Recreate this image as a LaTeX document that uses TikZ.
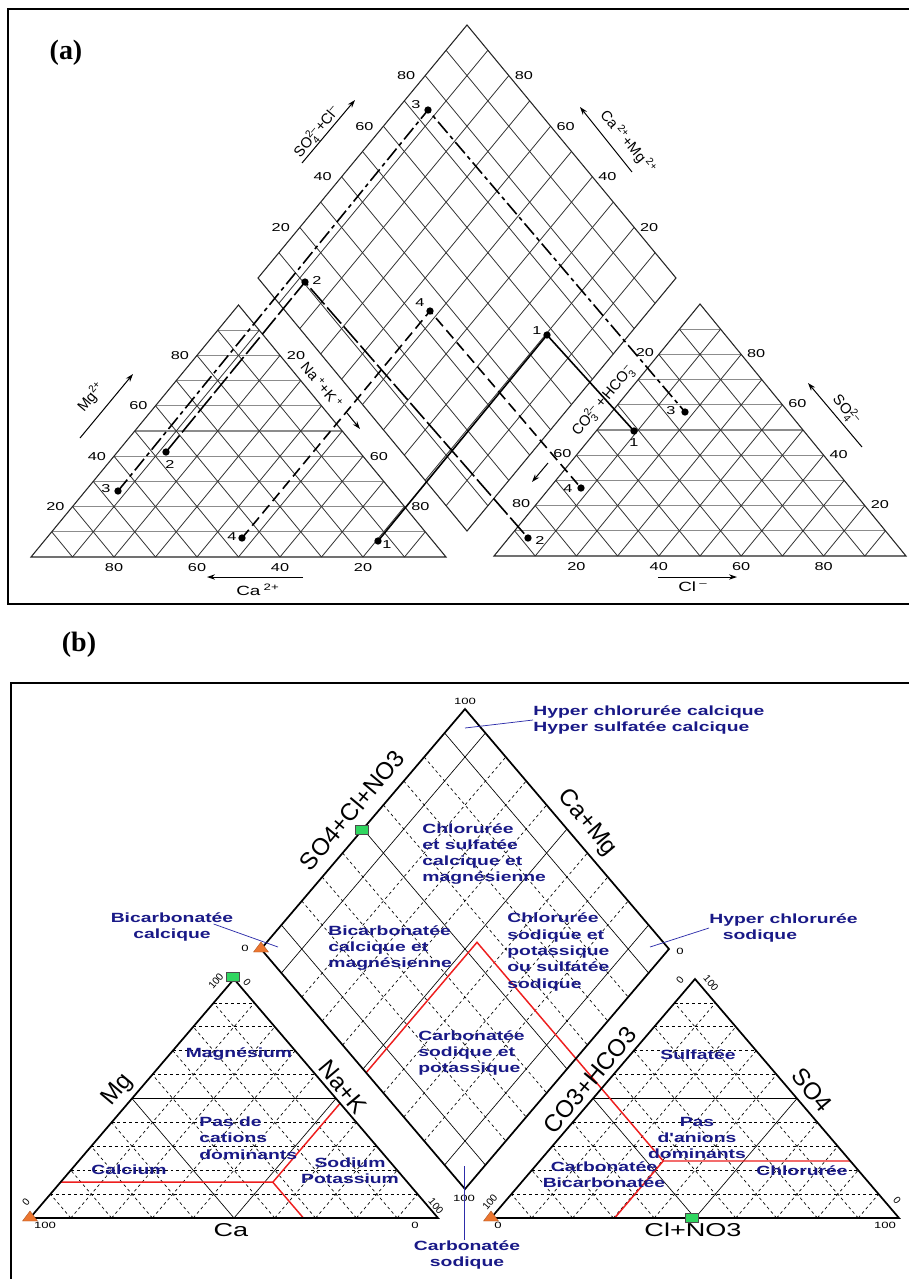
\documentclass[tikz,border=0pt]{standalone}
\usepackage{amsmath}
\usepackage{fontspec}
\setmainfont{Liberation Serif}
\setsansfont{Liberation Sans}
\usetikzlibrary{calc,arrows.meta}

\definecolor{navylbl}{RGB}{25,25,135}
\definecolor{leaderblue}{RGB}{45,45,170}
\definecolor{zonered}{RGB}{238,30,30}
\definecolor{mkorange}{RGB}{236,118,48}
\definecolor{mkgreen}{RGB}{48,214,96}

% ion charges for panel (a)
\newcommand{\chg}[2]{$_{\textsf{#1}}^{\textsf{#2}}$}
\newcommand{\chup}[1]{$^{\textsf{#1}}$}

\begin{document}
\begin{tikzpicture}
  [x=0.75pt,y=-0.75pt,
   gridA/.style={black!80,line width=0.6pt},
   hgridA/.style={black!45,line width=0.8pt},
   edgeA/.style={black!85,line width=0.8pt},
   numA/.style={font=\sffamily\fontsize{8.6}{9}\selectfont,inner sep=0pt,xscale=1.42},
   ionA/.style={font=\sffamily\fontsize{10}{11}\selectfont,inner sep=0pt,xscale=1.42},
   ionR/.style={font=\sffamily\fontsize{11}{12}\selectfont,inner sep=0pt},
   arrA/.style={-{Stealth[length=6pt,width=4pt]},line width=0.75pt},
   sampledot/.style={circle,fill=black,inner sep=0pt,minimum size=5.5pt},
   s1/.style={line width=1.2pt},
   s2/.style={line width=1.2pt,dash pattern=on 16pt off 3pt},
   s3/.style={line width=1.2pt,dash pattern=on 11pt off 3pt on 3pt off 3pt},
   s4/.style={line width=1.2pt,dash pattern=on 8pt off 4pt},
   edgeB/.style={black,line width=1.3pt},
   solidB/.style={black,line width=0.5pt},
   dashB/.style={black,line width=0.5pt,dash pattern=on 2.2pt off 2.2pt},
   axisB/.style={font=\sffamily\fontsize{14}{16}\selectfont,inner sep=0pt,xscale=1.45},
   axisR/.style={font=\sffamily\fontsize{18}{20}\selectfont,inner sep=0pt},
   tickB/.style={font=\sffamily\fontsize{6.8}{8}\selectfont,inner sep=0pt,xscale=1.45},
   tickR/.style={font=\sffamily\fontsize{7.6}{8}\selectfont,inner sep=0pt},
   lbl/.style={font=\sffamily\bfseries\fontsize{10}{12.2}\selectfont,text=navylbl,inner sep=0pt,xscale=1.45},
   zone/.style={zonered,line width=1.1pt},
   leader/.style={leaderblue,line width=0.55pt},
   panel/.style={font=\bfseries\fontsize{21}{24}\selectfont,inner sep=0pt}]

  \useasboundingbox (0,0) rectangle (909,1279);
  \fill[white] (0,0) rectangle (909,1279);
  \clip (0,0) rectangle (909,1279);

  % panel (a)
  \draw[line width=1.1pt] (8,9) rectangle (930,604);
  \node[panel] (panA) at (66,53) {(a)};

  \coordinate (caL) at (31,557);  \coordinate (caR) at (446,557);  \coordinate (caT) at (238.5,305);
  \coordinate (anL) at (494,556); \coordinate (anR) at (906,556);  \coordinate (anT) at (700,304);
  \coordinate (dL) at (258,278);  \coordinate (dT) at (467,25);
  \coordinate (dR) at (676,278);  \coordinate (dB) at (467,531);

  \foreach \i in {1,...,9} {
    \draw[hgridA] ($(caL)!\i/10!(caT)$) -- ($(caR)!\i/10!(caT)$);
    \draw[hgridA] ($(anL)!\i/10!(anT)$) -- ($(anR)!\i/10!(anT)$);
    \draw[gridA] ($(caL)!\i/10!(caR)$) -- ($(caL)!\i/10!(caT)$);
    \draw[gridA] ($(caR)!\i/10!(caL)$) -- ($(caR)!\i/10!(caT)$);
    \draw[gridA] ($(anL)!\i/10!(anR)$) -- ($(anL)!\i/10!(anT)$);
    \draw[gridA] ($(anR)!\i/10!(anL)$) -- ($(anR)!\i/10!(anT)$);
    \draw[gridA] ($(dL)!\i/10!(dB)$) -- ($(dT)!\i/10!(dR)$);
    \draw[gridA] ($(dL)!\i/10!(dT)$) -- ($(dB)!\i/10!(dR)$);
  }
  \draw[edgeA] (caL) -- (caR) -- (caT) -- cycle;
  \draw[edgeA] (anL) -- (anR) -- (anT) -- cycle;
  \draw[edgeA] (dL) -- (dT) -- (dR) -- (dB) -- cycle;

  \foreach \v in {20,40,60,80} {
    \node[numA] (mgA\v) at ($(caL)!\v/100!(caT)+(-17,0)$) {\v};
    \node[numA] (caA\v) at ($(caR)!\v/100!(caL)+(0,11)$) {\v};
    \node[numA] (soA\v) at ($(anR)!\v/100!(anT)+(15,-1)$) {\v};
    \node[numA] (clA\v) at ($(anL)!\v/100!(anR)+(0,11)$) {\v};
    \node[numA] (sclA\v) at ($(dL)!\v/100!(dT)+(-19,0)$) {\v};
    \node[numA] (cmA\v) at ($(dR)!\v/100!(dT)+(15,0)$) {\v};
  }
  \foreach \v in {20,60,80} {
    \node[numA] (nkA\v) at ($(caT)!\v/100!(caR)+(16,0)$) {\v};
    \node[numA] (hcA\v) at ($(anT)!\v/100!(anL)+(-14,-2)$) {\v};
  }

  \node[ionR,rotate=50]  (ionSC) at (317,132) {SO\chg{4}{2--}+Cl\chup{--}};
  \node[ionR,rotate=-50] (ionCM) at (628,142) {Ca\,\chup{2+}+Mg\,\chup{2+}};
  \node[ionR,rotate=50]  (ionMg) at (91,397) {Mg\chup{2+}};
  \node[ionR,rotate=-50] (ionNK) at (322,385) {Na\,\chup{+}+K\,\chup{+}};
  \node[ionR,rotate=50]  (ionCH) at (603,401) {CO\chg{3}{2--}\,+\,HCO\chg{3}{--}};
  \node[ionR,rotate=-50] (ionSO) at (846,410) {SO\chg{4}{2--}};
  \node[ionA] (ionCa) at (258,590) {Ca\,\chup{2+}};
  \node[ionA] (ionCl) at (693,587) {Cl\,\chup{--}};
  \foreach \xa/\ya/\xb/\yb in {302/163/355/100, 632/172/580/107, 80/438/133/374,
      347/413/360/429, 548/463/532/482, 862/447/808/383, 303/577/207/577, 658/577/737/577}
    \draw[arrA] (\xa,\ya) -- (\xb,\yb);

  % samples 1-4
  \coordinate (cat1) at (378,541); \coordinate (cat2) at (166,452);
  \coordinate (cat3) at (118,491); \coordinate (cat4) at (242,538);
  \coordinate (dia1) at (547,335); \coordinate (dia2) at (305,282);
  \coordinate (dia3) at (428,110); \coordinate (dia4) at (430,311);
  \coordinate (ani1) at (634,431); \coordinate (ani2) at (528,538);
  \coordinate (ani3) at (685,412); \coordinate (ani4) at (581,488);
  \foreach \k in {1,...,4}
    \draw[s\k] (cat\k) -- (dia\k) -- (ani\k);
  \foreach \k in {1,...,4}
    \foreach \p in {cat,dia,ani}
      \node[sampledot] (pt\p\k) at (\p\k) {};
  \foreach \p/\k/\dx/\dy in {cat/3/-12/-2, cat/2/4/12, cat/4/-10/-1, cat/1/9/4,
      dia/3/-12/-5, dia/2/12/-2, dia/4/-10/-8, dia/1/-10/-4,
      ani/3/-14/-1, ani/1/0/12, ani/4/-13/1, ani/2/12/2}
    \node[numA] (lb\p\k) at ($(\p\k)+(\dx,\dy)$) {\k};

  % panel (b)
  \draw[line width=1.1pt] (11,1300) -- (11,683) -- (930,683);
  \node[panel] (panB) at (79,645) {(b)};

  \coordinate (cbL) at (30,1218);  \coordinate (cbR) at (438,1218); \coordinate (cbT) at (234,979);
  \coordinate (abL) at (491,1218); \coordinate (abR) at (899,1218); \coordinate (abT) at (695,979);
  \coordinate (eL) at (261,949);   \coordinate (eT) at (465,709);
  \coordinate (eR) at (669,949);   \coordinate (eB) at (465,1189);

  \foreach \i/\st in {1/dashB,2/dashB,3/dashB,4/dashB,5/solidB,6/dashB,7/dashB,8/dashB,9/dashB} {
    \draw[\st] ($(cbL)!\i/10!(cbT)$) -- ($(cbR)!\i/10!(cbT)$);
    \draw[\st] ($(cbL)!\i/10!(cbR)$) -- ($(cbL)!\i/10!(cbT)$);
    \draw[\st] ($(cbR)!\i/10!(cbL)$) -- ($(cbR)!\i/10!(cbT)$);
    \draw[\st] ($(abL)!\i/10!(abT)$) -- ($(abR)!\i/10!(abT)$);
    \draw[\st] ($(abL)!\i/10!(abR)$) -- ($(abL)!\i/10!(abT)$);
    \draw[\st] ($(abR)!\i/10!(abL)$) -- ($(abR)!\i/10!(abT)$);
  }
  \foreach \i/\st in {1/solidB,2/dashB,3/dashB,4/dashB,5/solidB,6/dashB,7/dashB,8/dashB,9/solidB} {
    \draw[\st] ($(eL)!\i/10!(eB)$) -- ($(eT)!\i/10!(eR)$);
    \draw[\st] ($(eL)!\i/10!(eT)$) -- ($(eB)!\i/10!(eR)$);
  }

  % classification limits
  \draw[zone] (60.6,1182.2) -- (272.8,1182.2) -- (340.1,1103.3);
  \draw[zone] (272.8,1182.2) -- (303.4,1218);
  \draw[zone] (366.1,1072.7) -- (477,942.3) -- (663.2,1161) -- (850.4,1161);
  \draw[zone] (663.2,1161) -- (614.6,1218);

  \draw[edgeB] (cbL) -- (cbR) -- (cbT) -- cycle;
  \draw[edgeB] (abL) -- (abR) -- (abT) -- cycle;
  \draw[edgeB] (eL) -- (eT) -- (eR) -- (eB) -- cycle;

  \foreach \p in {eL,cbL,abL}
    \filldraw[fill=mkorange,draw=mkorange!75!black,line width=0.3pt]
      ($(\p)+(-7.5,3)$) -- ($(\p)+(7.5,3)$) -- ($(\p)+(0,-7)$) -- cycle;
  \coordinate (gq1) at (362,830); \coordinate (gq2) at (233,977); \coordinate (gq3) at (692,1218);
  \foreach \q in {gq1,gq2,gq3}
    \filldraw[fill=mkgreen,draw=black!70,line width=0.3pt]
      ($(\q)+(-6.5,-4.5)$) rectangle ($(\q)+(6.5,4.5)$);

  \node[tickB] (tkT) at (465,701) {100};
  \node[tickB] (tkR) at (680,951) {0};
  \node[tickB] (tkL) at (245,948) {0};
  \node[tickB] (tkB) at (464,1198) {100};
  \node[tickR,rotate=50]  (tkc1) at (216,981) {100};
  \node[tickR,rotate=-50] (tkc2) at (247,982) {0};
  \node[tickR,rotate=50]  (tkc3) at (26,1202) {0};
  \node[tickB]            (tkc4) at (45,1225) {100};
  \node[tickR,rotate=-50] (tkc5) at (436,1206) {100};
  \node[tickB]            (tkc6) at (415,1225) {0};
  \node[tickR,rotate=50]  (tka1) at (680,980) {0};
  \node[tickR,rotate=-50] (tka2) at (711,983) {100};
  \node[tickR,rotate=50]  (tka3) at (490,1202) {100};
  \node[tickB]            (tka4) at (498,1225) {0};
  \node[tickR,rotate=-50] (tka5) at (897,1200) {0};
  \node[tickB]            (tka6) at (885,1225) {100};

  \node[axisR,rotate=50]  (axSCN) at (352,810) {SO4+Cl+NO3};
  \node[axisR,rotate=-50] (axCM)  at (587,823) {Ca+Mg};
  \node[axisR,rotate=50]  (axMg)  at (118,1090) {Mg};
  \node[axisR,rotate=-50] (axNK)  at (343,1087) {Na+K};
  \node[axisB]            (axCa)  at (231,1230) {Ca};
  \node[axisR,rotate=50]  (axCH)  at (590,1080) {CO3+HCO3};
  \node[axisR,rotate=-50] (axSO)  at (812,1090) {SO4};
  \node[axisB]            (axCN)  at (693,1230) {Cl+NO3};

  \node[lbl,anchor=west,align=left] (hypCC) at (533,720) {Hyper chlorurée calcique\\Hyper sulfatée calcique};
  \node[lbl,anchor=west,align=left] (chlSC) at (422,854) {Chlorurée\\et sulfatée\\calcique et\\magnésienne};
  \node[lbl,align=center] (bicC) at (172,927) {Bicarbonatée\\calcique};
  \node[lbl,anchor=west,align=left] (bicCM) at (328,948) {Bicarbonatée\\calcique et\\magnésienne};
  \node[lbl,anchor=west,align=left] (chlSP) at (507,952) {Chlorurée\\sodique et\\potassique\\ou sulfatée\\sodique};
  \node[lbl,anchor=west,align=left] (hypCS) at (709,928) {Hyper chlorurée\\\hspace*{7pt}sodique};
  \node[lbl,anchor=west,align=left] (carSP) at (418,1053) {Carbonatée\\sodique et\\potassique};
  \node[lbl] (magn) at (239,1054) {Magnésium};
  \node[lbl,anchor=west,align=left] (pasC) at (199,1138) {Pas de\\cations\\dominants};
  \node[lbl] (calcium) at (129,1170) {Calcium};
  \node[lbl,align=center] (sodK) at (350,1171) {Sodium\\Potassium};
  \node[lbl] (sulf) at (698,1055) {Sulfatée};
  \node[lbl,align=center] (pasA) at (697,1138) {Pas\\d\textquotesingle anions\\dominants};
  \node[lbl,align=center] (carB) at (604,1175) {Carbonatée\\Bicarbonatée};
  \node[lbl] (chlo) at (802,1171) {Chlorurée};
  \node[lbl,align=center] (carS) at (467,1255) {Carbonatée\\sodique};

  \coordinate (ldCC) at (465,728);
  \coordinate (ldBC) at (278,947);
  \coordinate (ldCS) at (650,947);
  \coordinate (ldSod) at (464,1166);
  \draw[leader] (hypCC.west) -- (ldCC);
  \draw[leader] ($(bicC.east)+(-20,-3)$) -- (ldBC);
  \draw[leader] (hypCS.west) -- (ldCS);
  \draw[leader] (ldSod) -- (ldSod |- carS.north);

\end{tikzpicture}
\end{document}
